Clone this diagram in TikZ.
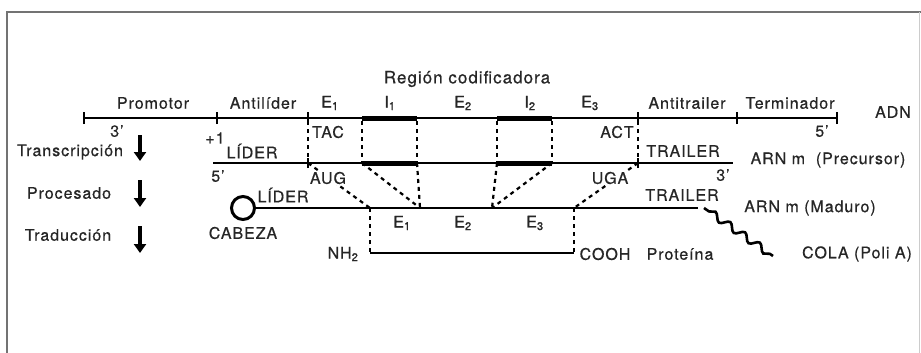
\documentclass[tikz,border=0pt]{standalone}
\usepackage{fontspec}
\setmainfont{TeX Gyre Heros}[LetterSpace=6,FakeBold=0.6]
\usetikzlibrary{decorations.pathmorphing,arrows.meta}
\begin{document}
\begin{tikzpicture}[x=1pt,y=-1pt,
  lbl/.style={font=\fontsize{16}{18}\selectfont, inner sep=0.5pt, text=black!85},
  strand/.style={line width=2.8pt},
  intron/.style={line width=5pt},
  guide/.style={line width=2.2pt, dash pattern=on 4pt off 4pt},
  tickmark/.style={line width=2.4pt},
  stepar/.style={-{Triangle[length=9pt,width=12pt]}, line width=4.5pt},
]
\useasboundingbox (0,0) rectangle (921,353);
% frame
\draw[line width=1.5pt, black!55] (7,353) -- (7,12) -- (921,12);
\draw[line width=0.8pt, black!20] (919,12) -- (919,353);

% ADN coordinates
\coordinate (a0) at (84,118);  \coordinate (a1) at (217,118);
\coordinate (a2) at (308,118); \coordinate (a3) at (362,118);
\coordinate (a4) at (417,118); \coordinate (a5) at (497,118);
\coordinate (a6) at (552,118); \coordinate (a7) at (638,118);
\coordinate (a8) at (737,118); \coordinate (a9) at (837,118);
% precursor
\coordinate (p0) at (213,163); \coordinate (p2) at (308,163);
\coordinate (p3) at (362,163); \coordinate (p4) at (417,163);
\coordinate (p5) at (497,163); \coordinate (p6) at (552,163);
\coordinate (p7) at (638,163); \coordinate (p9) at (733,163);
% mature
\coordinate (m1) at (370,208); \coordinate (m2) at (420,208);
\coordinate (m3) at (492,208); \coordinate (m4) at (574,208);
\coordinate (m9) at (698,208);
% protein
\coordinate (n0) at (370,253); \coordinate (n1) at (574,253);
% tail
\coordinate (t0) at (704,208); \coordinate (t1) at (773,256);

% guides (drawn first)
\foreach \i in {2,...,7} \draw[guide] ([yshift=-3]a\i) -- (p\i);
\draw[guide] (p2) -- (m1);
\draw[guide] (p3) -- (m2);
\draw[guide] (p4) -- (m2);
\draw[guide] (p5) -- (m3);
\draw[guide] (p6) -- (m3);
\draw[guide] (p7) -- (m4);
\draw[guide] (m1) -- (n0);
\draw[guide] (m4) -- (n1);

% ADN
\draw[strand] (a0) -- (a9);
\foreach \c in {a0,a1,a2,a7,a8,a9} \draw[tickmark] ([yshift=-6]\c) -- ([yshift=6]\c);
\draw[intron] (a3) -- (a4);
\draw[intron] (a5) -- (a6);
% precursor
\draw[strand] (p0) -- (p9);
\foreach \c in {p2,p7} \draw[tickmark] ([yshift=-5]\c) -- ([yshift=5]\c);
\draw[intron] (p3) -- (p4);
\draw[intron] (p5) -- (p6);
% mature
\node[circle, draw, line width=3pt, minimum size=23pt, inner sep=0pt] (cap) at (243,208) {};
\draw[strand] (cap.east) -- (m9);
\draw[line width=2.6pt, decorate, decoration={snake, amplitude=3.5pt, segment length=18pt, pre length=6pt, post length=3pt}] (t0) -- (t1);
% protein
\draw[strand] (n0) -- (n1);

% step arrows
\coordinate (s1a) at (140,135); \coordinate (s1b) at (140,161);
\coordinate (s2a) at (140,180); \coordinate (s2b) at (140,207);
\coordinate (s3a) at (140,226); \coordinate (s3b) at (140,253);
\draw[stepar] (s1a) -- (s1b);
\draw[stepar] (s2a) -- (s2b);
\draw[stepar] (s3a) -- (s3b);

% labels
\node[lbl, font=\fontsize{17}{19}\selectfont] (reg) at (467,79) {Región codificadora};
\node[lbl] (prom) at (153,103) {Promotor};
\node[lbl] (antl) at (263,103) {Antilíder};
\node[lbl] (e1) at (330,103) {E\textsubscript{1}};
\node[lbl] (i1) at (390,103) {I\textsubscript{1}};
\node[lbl] (e2) at (463,103) {E\textsubscript{2}};
\node[lbl] (i2) at (530,103) {I\textsubscript{2}};
\node[lbl] (e3) at (590,103) {E\textsubscript{3}};
\node[lbl] (antt) at (687,103) {Antitrailer};
\node[lbl] (term) at (790,103) {Terminador};
\node[lbl] (adn) at (893,112) {ADN};
\node[lbl] (d3) at (117,131) {3’};
\node[lbl] (plus) at (215,138) {+1};
\node[lbl] (tac) at (328,132) {TAC};
\node[lbl] (act) at (617,132) {ACT};
\node[lbl] (d5) at (822,131) {5’};
\node[lbl] (tr) at (70,152) {Transcripción};
\node[lbl] (pr) at (69,193) {Procesado};
\node[lbl] (td) at (68,235) {Traducción};
\node[lbl] (lid1) at (252,151) {LÍDER};
\node[lbl] (trl1) at (683,151) {TRAILER};
\node[lbl] (r5) at (218,176) {5’};
\node[lbl] (r3) at (723,175) {3’};
\node[lbl] (prec) at (828,160) {ARN m\ \ (Precursor)};
\node[lbl, fill=white] (aug) at (328,178) {AUG};
\node[lbl, fill=white] (uga) at (610,178) {UGA};
\node[lbl] (lid2) at (283,195) {LÍDER};
\node[lbl] (cab) at (243,233) {CABEZA};
\node[lbl] (trl2) at (682,195) {TRAILER};
\node[lbl] (mad) at (810,208) {ARN m (Maduro)};
\node[lbl] (me1) at (402,223) {E\textsubscript{1}};
\node[lbl] (me2) at (463,223) {E\textsubscript{2}};
\node[lbl] (me3) at (535,223) {E\textsubscript{3}};
\node[lbl] (nh) at (343,254) {NH\textsubscript{2}};
\node[lbl] (cooh) at (605,254) {COOH};
\node[lbl] (prot) at (680,254) {Proteína};
\node[lbl] (cola) at (857,254) {COLA (Poli A)};
\end{tikzpicture}
\end{document}
